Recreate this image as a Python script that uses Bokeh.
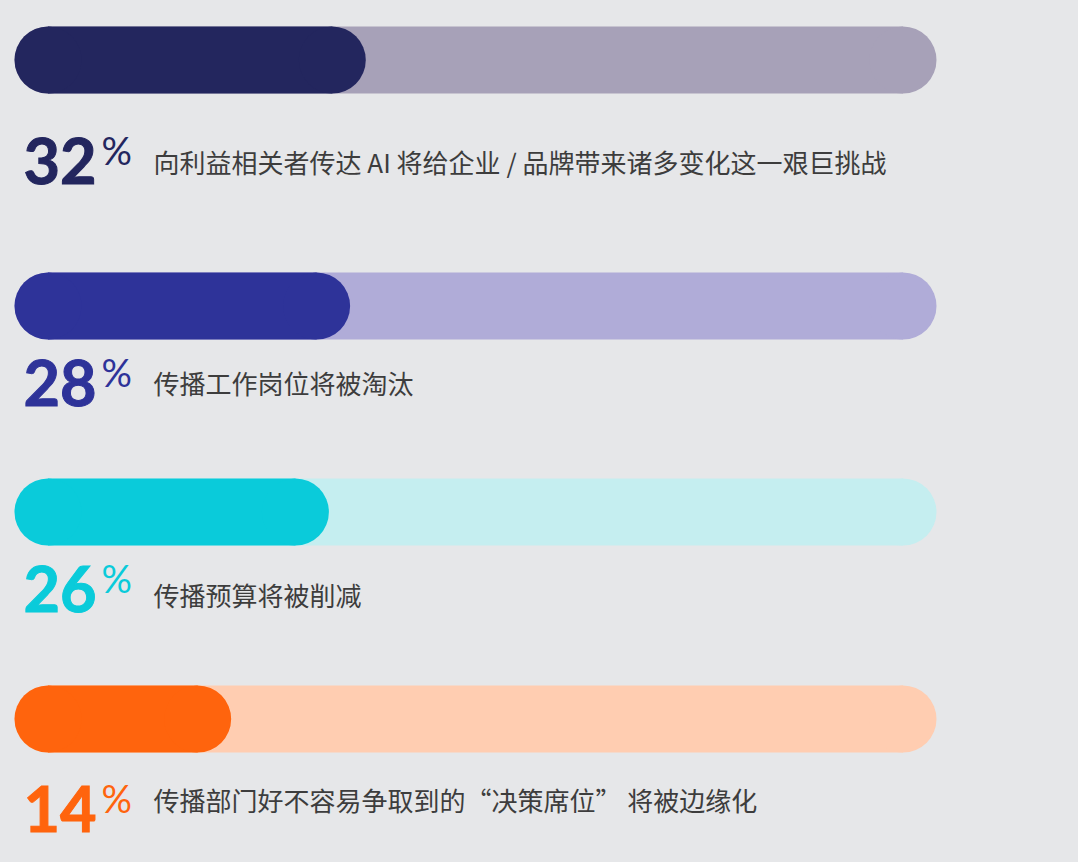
from bokeh.plotting import figure
from bokeh.models import Range1d, ColumnDataSource
from bokeh.core.properties import value
from bokeh.embed import file_html
from bokeh.resources import INLINE

# ---- data ----
percents = [32, 28, 26, 14]
labels = [
    "向利益相关者传达 AI 将给企业 / 品牌带来诸多变化这一艰巨挑战",
    "传播工作岗位将被淘汰",
    "传播预算将被削减",
    "传播部门好不容易争取到的“决策席位” 将被边缘化",
]
# filled share of each track as drawn in the picture (track = 100)
fill_share = [38.1, 36.4, 34.1, 23.5]
track_total = 100

# ---- styles / layout ----
fill_colors = ["#23265e", "#2e3399", "#0acbda", "#ff640d"]
track_colors = ["#a7a1b8", "#b0acd8", "#c5eef0", "#ffcdb1"]
bg = "#e6e7e9"
W, H = 1078, 862
px_per_unit = 9.22
left_px = 14
bar_px = 67
bar_y = [59.5, 305.5, 511.5, 718.5]
num_base = [160, 382, 588, 808]
pct_base = [149, 371, 577, 797]
label_mid = [161, 381.5, 593.5, 798.5]

x0 = -left_px / px_per_unit
p = figure(width=W, height=H, output_backend="svg", toolbar_location=None,
           x_range=Range1d(x0, x0 + W / px_per_unit), y_range=Range1d(H, 0),
           min_border=0, background_fill_color=bg, border_fill_color=bg)
p.axis.visible = False
p.grid.visible = False
p.outline_line_color = None

r = (bar_px / 2) / px_per_unit

def pill(starts, ends, ys, colors):
    src = ColumnDataSource(dict(l=[s + r for s in starts], rr=[e - r for e in ends],
                                s=[s + r for s in starts], e=[e - r for e in ends],
                                y=ys, c=colors))
    p.hbar(y="y", left="l", right="rr", height=bar_px, fill_color="c", line_color=None, source=src)
    p.circle(x="s", y="y", radius=r, fill_color="c", line_color=None, source=src)
    p.circle(x="e", y="y", radius=r, fill_color="c", line_color=None, source=src)

n = len(percents)
pill([0] * n, [track_total] * n, bar_y, track_colors)
pill([0] * n, fill_share, bar_y, fill_colors)

src = ColumnDataSource(dict(
    x=[0] * n, nb=num_base, pb=pct_base, lm=label_mid,
    num=[str(v) for v in percents], pct=["%"] * n, lab=labels, c=fill_colors))

p.text(x="x", y="nb", text="num", text_color="c", source=src,
       text_outline_color="c",
       text_font=value("Lato"), text_font_style="bold", text_font_size="63px",
       text_baseline="alphabetic", x_offset=9)
p.text(x="x", y="pb", text="pct", text_color="c", source=src,
       text_font=value("Lato"), text_font_size="38px",
       text_baseline="alphabetic", x_offset=87)
p.text(x="x", y="lm", text="lab", text_color="#3d3d3d", source=src,
       text_font=value("Noto Sans CJK SC"), text_font_size="26px",
       text_baseline="middle", x_offset=139)

html = file_html(p, INLINE)
html = html.replace("</head>", "<style>html,body{background:#e6e7e9;}</style></head>", 1)
open("out.html", "w").write(html)
